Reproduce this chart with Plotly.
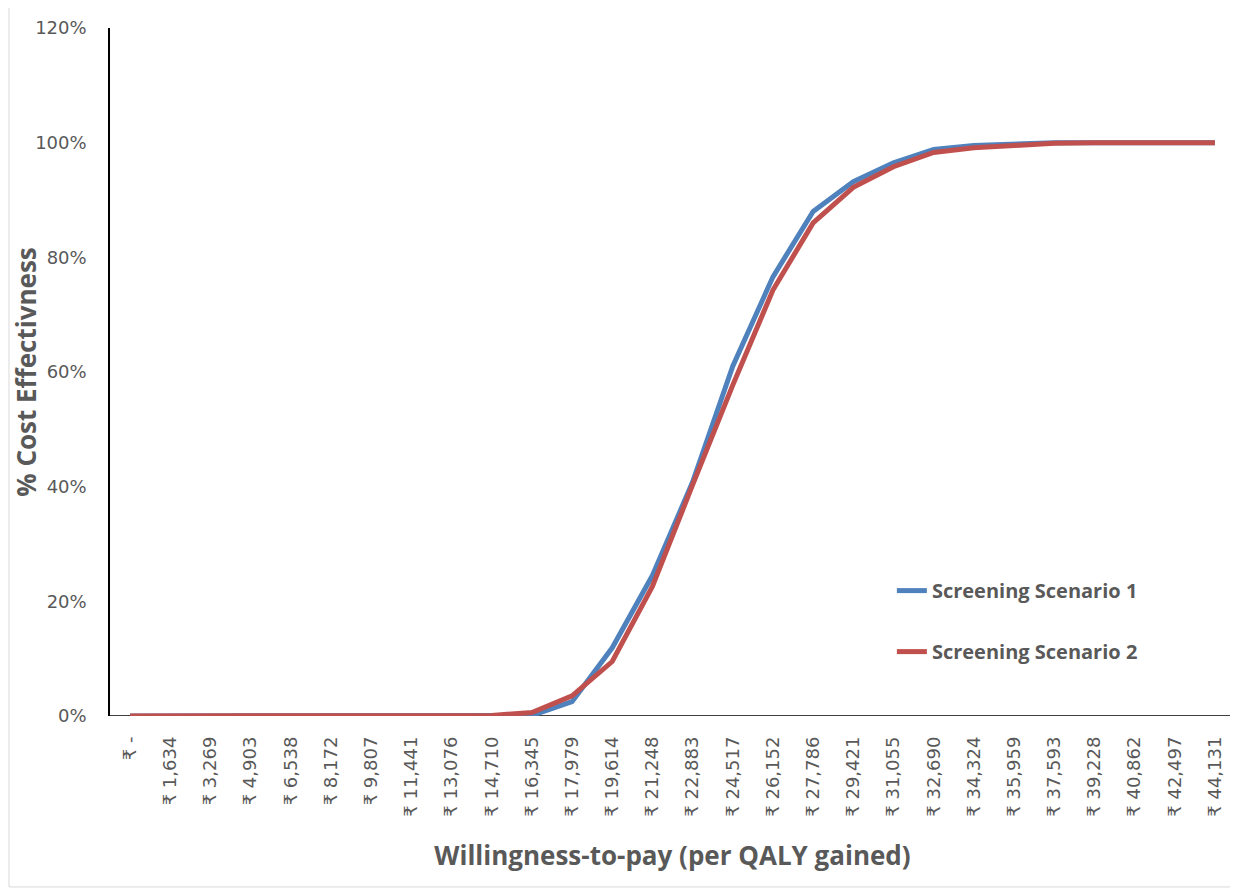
import plotly.graph_objects as go

wtp_labels = ["₹ -", "₹ 1,634", "₹ 3,269", "₹ 4,903", "₹ 6,538", "₹ 8,172", "₹ 9,807",
              "₹ 11,441", "₹ 13,076", "₹ 14,710", "₹ 16,345", "₹ 17,979", "₹ 19,614",
              "₹ 21,248", "₹ 22,883", "₹ 24,517", "₹ 26,152", "₹ 27,786", "₹ 29,421",
              "₹ 31,055", "₹ 32,690", "₹ 34,324", "₹ 35,959", "₹ 37,593", "₹ 39,228",
              "₹ 40,862", "₹ 42,497", "₹ 44,131"]

scenario1 = [0, 0, 0, 0, 0, 0, 0, 0, 0, 0, 0.001, 0.025, 0.119, 0.245, 0.408, 0.61,
             0.766, 0.88, 0.932, 0.965, 0.988, 0.995, 0.998, 1.0, 1.0, 1.0, 1.0, 1.0]
scenario2 = [0, 0, 0, 0, 0, 0, 0, 0, 0, 0.001, 0.006, 0.035, 0.095, 0.226, 0.403, 0.577,
             0.743, 0.86, 0.922, 0.958, 0.983, 0.991, 0.995, 0.999, 1.0, 1.0, 1.0, 1.0]

x = list(range(len(wtp_labels)))

fig = go.Figure()
fig.add_trace(go.Scatter(x=x, y=scenario1, mode="lines", name="Screening Scenario 1",
                         line=dict(color="#4F81BD", width=5), legendgroup="a"))
fig.add_trace(go.Scatter(x=x, y=scenario2, mode="lines", name="Screening Scenario 2",
                         line=dict(color="#C0504D", width=5), legendgroup="b"))

fig.update_layout(
    width=1230, height=880,
    margin=dict(l=102, r=3, t=20, b=172),
    paper_bgcolor="white", plot_bgcolor="white",
    font=dict(family="DejaVu Sans, sans-serif", color="#595959"),
    showlegend=True,
    legend=dict(x=0.695, y=0.2106, xanchor="left", yanchor="top",
                font=dict(size=20, color="#595959", family="Open Sans, sans-serif", weight="bold"),
                traceorder="grouped", tracegroupgap=32, bgcolor="rgba(0,0,0,0)"),
    xaxis=dict(
        tickmode="array", tickvals=x, ticktext=wtp_labels,
        range=[-0.5, len(x) - 0.5], tickangle=-90,
        tickfont=dict(size=18, color="#595959", family="DejaVu Sans, sans-serif"),
        showgrid=False, zeroline=False, showline=False, ticks="", automargin=False,
        ticklabelstandoff=16,
        title=dict(text="<b>Willingness-to-pay (per QALY gained)</b>",
                   font=dict(size=26, color="#595959", family="Open Sans, sans-serif"),
                   standoff=31),
    ),
    yaxis=dict(
        range=[0, 1.2], tickmode="array",
        tickvals=[0, 0.2, 0.4, 0.6, 0.8, 1.0, 1.2],
        ticktext=["0%", "20%", "40%", "60%", "80%", "100%", "120%"],
        tickfont=dict(size=18, color="#595959", family="DejaVu Sans, sans-serif"),
        showgrid=False, zeroline=False, showline=True, linecolor="black", linewidth=1.5,
        ticks="", ticklabelstandoff=18, automargin=False,
        title=dict(text="<b>% Cost Effectivness</b>",
                   font=dict(size=26, color="#595959", family="Open Sans, sans-serif"),
                   standoff=2),
    ),
    shapes=[
        dict(type="line", xref="paper", yref="y", x0=0, x1=1, y0=0, y1=0,
             line=dict(color="black", width=1.5), layer="below"),
        dict(type="rect", xref="paper", yref="paper", x0=-0.0898, x1=1.0018,
             y0=-0.2485, y1=1.0305, line=dict(color="#D9D9D9", width=1)),
    ],
)

fig.write_html("out.html")
